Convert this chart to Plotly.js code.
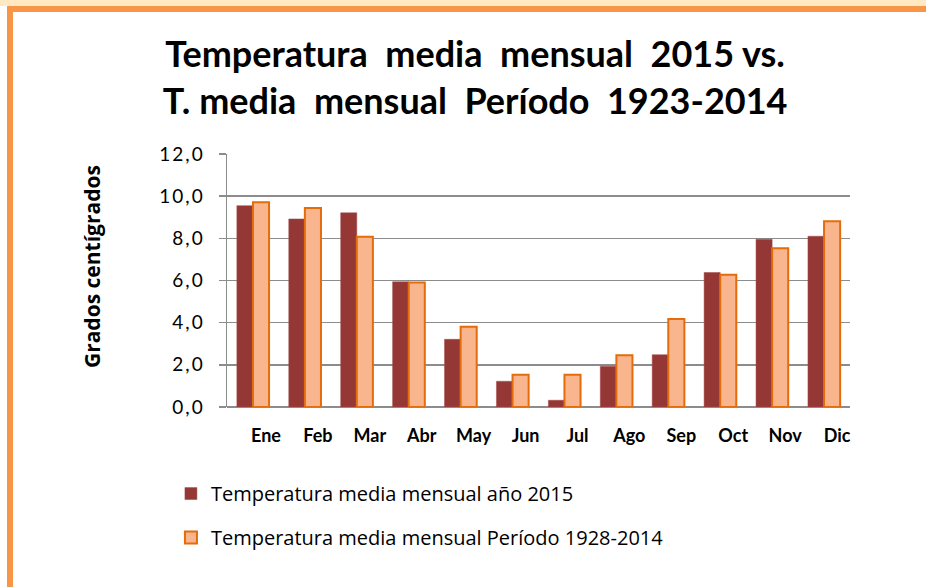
<!DOCTYPE html>
<html>
<head>
<meta charset="utf-8">
<script src="https://cdn.plot.ly/plotly-3.0.1.min.js"></script>
<style>
  html, body { margin: 0; padding: 0; background: #ffffff; }
  #wrap { position: relative; width: 926px; height: 587px; overflow: hidden; background: #ffffff; }
  #topstrip { position: absolute; left: 0; top: 0; width: 926px; height: 6px; background: #FFE8C2; }
  #topborder { position: absolute; left: 7px; top: 6px; width: 919px; height: 6px; background: #F79646; }
  #leftborder { position: absolute; left: 7px; top: 6px; width: 6px; height: 581px; background: #F79646; }
  #chart { position: absolute; left: 0; top: 0; width: 926px; height: 587px; }
  #chart .ytick text { letter-spacing: 2px; }
</style>
</head>
<body>
<div id="wrap">
  <div id="topstrip"></div>
  <div id="topborder"></div>
  <div id="leftborder"></div>
  <div id="chart"></div>
</div>
<script>
const months = ["Ene", "Feb", "Mar", "Abr", "May", "Jun", "Jul", "Ago", "Sep", "Oct", "Nov", "Dic"];
const temp2015 = [9.55, 8.92, 9.21, 5.94, 3.21, 1.22, 0.32, 1.93, 2.48, 6.38, 7.96, 8.10];
const tempPeriodo = [9.71, 9.44, 8.07, 5.91, 3.81, 1.53, 1.53, 2.45, 4.17, 6.27, 7.53, 8.81];
const name2015 = "Temperatura media mensual año 2015";
const namePeriodo = "Temperatura media mensual Período 1928-2014";
const titleText = "Temperatura  media  mensual  2015 vs.<br>T. media  mensual  Período  1923-2014";
const yTitle = "Grados centígrados";

const font = "Lato, 'Open Sans', sans-serif";
const font2 = "'Open Sans', Lato, sans-serif";

const traces = [
  {
    type: "bar", x: months, y: temp2015, name: name2015, legendgroup: "a",
    marker: { color: "#953735", line: { color: "#A24A48", width: 0.5 } }
  },
  {
    type: "bar", x: months, y: tempPeriodo, name: namePeriodo, legendgroup: "b",
    marker: { color: "#F9B58D", line: { color: "#E46C0A", width: 2 } }
  }
];

const layout = {
  width: 926, height: 587,
  paper_bgcolor: "rgba(0,0,0,0)",
  plot_bgcolor: "rgba(0,0,0,0)",
  separators: ", ",
  margin: { l: 227, r: 76, t: 154, b: 180, pad: 0 },
  barmode: "group",
  bargap: 0.38,
  bargroupgap: 0,
  title: {
    text: titleText,
    font: { family: font, size: 36, color: "#000000", weight: "bold" },
    x: 0.513, xanchor: "center", y: 0.886, yanchor: "middle"
  },
  xaxis: {
    type: "category",
    tickfont: { family: font, size: 18, color: "#000000", weight: "bold" },
    showgrid: false,
    showline: false,
    ticks: "",
    ticklabelshift: 13,
    ticklabelstandoff: 16,
    automargin: false
  },
  yaxis: {
    range: [0, 12],
    dtick: 2,
    tickformat: ".1f",
    tickfont: { family: font, size: 19, color: "#000000" },
    showgrid: true,
    gridcolor: "#8C8C8C",
    gridwidth: 1.5,
    zeroline: true,
    zerolinecolor: "#8C8C8C",
    zerolinewidth: 1.5,
    showline: true,
    linecolor: "#8C8C8C",
    linewidth: 1.5,
    ticks: "outside",
    ticklen: 7,
    tickcolor: "#8C8C8C",
    tickwidth: 1.5,
    ticklabelstandoff: 10,
    automargin: false
  },
  annotations: [
    {
      text: yTitle, textangle: -90,
      xref: "paper", yref: "paper",
      x: -0.2167, y: 0.557, xanchor: "center", yanchor: "middle",
      showarrow: false,
      font: { family: font2, size: 21, color: "#000000", weight: "bold" }
    }
  ],
  showlegend: true,
  legend: {
    x: -0.09, xanchor: "left",
    y: -0.265, yanchor: "top",
    orientation: "v",
    tracegroupgap: 15,
    font: { family: font2, size: 20, color: "#000000" },
    bgcolor: "rgba(0,0,0,0)",
    itemwidth: 30
  }
};

Plotly.newPlot("chart", traces, layout, { displayModeBar: false, staticPlot: true });
</script>
</body>
</html>
